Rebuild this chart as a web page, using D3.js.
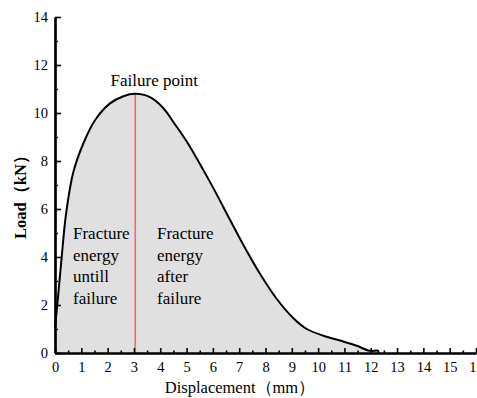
<!DOCTYPE html>
<html>
<head>
<meta charset="utf-8">
<script src="https://cdn.jsdelivr.net/npm/d3@7"></script>
<style>
  body { margin: 0; background: #fff; }
</style>
</head>
<body>
<script>
// load-displacement curve
var displacement = [0, 0.12, 0.25, 0.42, 0.70, 1.08, 1.52, 2.09, 2.6, 3.05, 3.61, 4.12, 4.5, 5.0, 5.64, 6.15, 6.65, 7.16, 7.79, 8.43, 9.06, 9.57, 10.2, 10.96, 11.47, 11.95, 12.28, 12.29];
var load = [1.04, 2.4, 3.95, 5.8, 7.55, 8.74, 9.7, 10.4, 10.7, 10.8, 10.66, 10.2, 9.62, 8.82, 7.62, 6.6, 5.55, 4.5, 3.3, 2.25, 1.45, 1.0, 0.72, 0.48, 0.3, 0.09, 0.09, 0];
var failureX = 3.05, failureLoad = 10.8;
var xTicks = d3.range(0, 17, 1);
var yTicks = d3.range(0, 15, 2);

var FONT = "'Liberation Serif', 'Times New Roman', serif";
var W = 477, H = 398;
var margin = {top: 17, right: 1, bottom: 45, left: 55};

var x = d3.scaleLinear().domain([0, 16]).range([0, 421]);
var y = d3.scaleLinear().domain([0, 14]).range([336, 0]);

var root = d3.select("body").append("svg")
    .attr("width", W)
    .attr("height", H)
    .attr("font-family", FONT);
var svg = root.append("g")
    .attr("transform", "translate(" + margin.left + "," + margin.top + ")");

var pts = displacement.map(function(d, i) { return [d, load[i]]; });

var area = d3.area()
    .x(function(d) { return x(d[0]); })
    .y0(y(0))
    .y1(function(d) { return y(d[1]); })
    .curve(d3.curveCatmullRom.alpha(0.5));

var line = d3.line()
    .x(function(d) { return x(d[0]); })
    .y(function(d) { return y(d[1]); })
    .curve(d3.curveCatmullRom.alpha(0.5));

svg.append("path")
    .datum(pts)
    .attr("d", area)
    .attr("fill", "#e0e0e0");

svg.append("line")
    .attr("x1", x(failureX)).attr("x2", x(failureX))
    .attr("y1", y(0)).attr("y2", y(failureLoad))
    .attr("stroke", "#f26b6b")
    .attr("stroke-width", 1.6);

svg.append("path")
    .datum(pts)
    .attr("d", line)
    .attr("fill", "none")
    .attr("stroke", "#000")
    .attr("stroke-width", 2);

// axes, ticks pointing inward
var xAxis = d3.axisBottom(x).tickValues(xTicks).tickSize(-5).tickPadding(9).tickSizeOuter(0);
var xMinor = d3.axisBottom(x).tickValues(d3.range(0.5, 16, 1)).tickSize(-2.5).tickFormat("").tickSizeOuter(0);
var yAxis = d3.axisLeft(y).tickValues(yTicks).tickSize(-6).tickPadding(7).tickSizeOuter(0);
var yMinor = d3.axisLeft(y).tickValues(d3.range(1, 14, 2)).tickSize(-3).tickFormat("").tickSizeOuter(0);

function styleAxis(g) {
  g.attr("font-family", FONT).attr("font-size", 14.5);
  g.selectAll(".domain").attr("stroke-width", 2.2);
  g.selectAll(".tick line").attr("stroke-width", 1.6);
  g.selectAll("text").attr("font-family", FONT).attr("fill", "#000");
}

svg.append("g").attr("transform", "translate(0," + y(0) + ")").call(xMinor).call(styleAxis);
svg.append("g").attr("transform", "translate(0," + y(0) + ")").call(xAxis).call(styleAxis);
svg.append("g").call(yMinor).call(styleAxis);
svg.append("g").call(yAxis).call(styleAxis);

// labels
svg.append("text")
    .attr("x", 185)
    .attr("y", y(0) + 40)
    .attr("text-anchor", "middle")
    .attr("font-family", FONT)
    .attr("font-size", 16.5)
    .text("Displacement（mm）");

svg.append("text")
    .attr("transform", "translate(" + (-29) + "," + 176 + ") rotate(-90)")
    .attr("text-anchor", "middle")
    .attr("font-family", FONT)
    .attr("font-size", 16.5)
    .attr("font-weight", "bold")
    .text("Load（kN）");

svg.append("text")
    .attr("x", x(failureX) + 19)
    .attr("y", 69)
    .attr("text-anchor", "middle")
    .attr("font-family", FONT)
    .attr("font-size", 17)
    .text("Failure point");

function block(lines, px) {
  var t = svg.append("text").attr("font-family", FONT).attr("font-size", 17);
  lines.forEach(function(s, i) {
    t.append("tspan").attr("x", px).attr("y", 222 + i * 21.7).text(s);
  });
}
block(["Fracture", "energy", "untill", "failure"], 18);
block(["Fracture", "energy", "after", "failure"], 102);
</script>
</body>
</html>
